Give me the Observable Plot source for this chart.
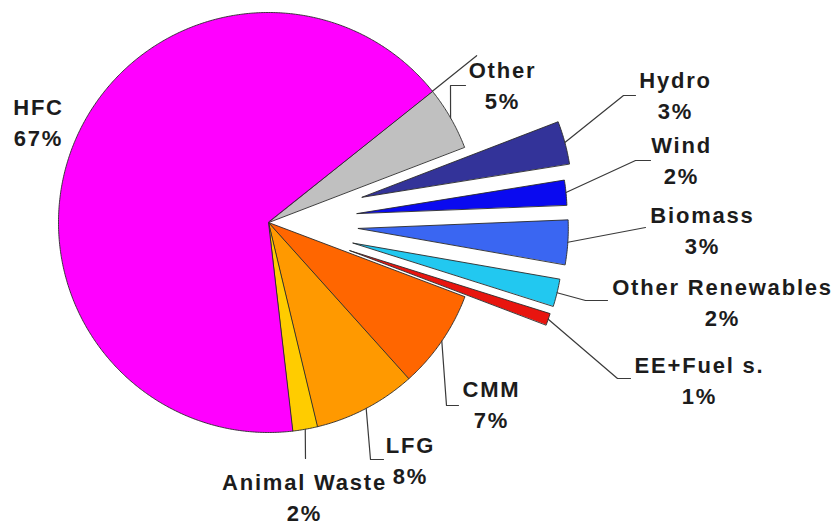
<!DOCTYPE html>
<html><head><meta charset="utf-8">
<script src="https://cdn.jsdelivr.net/npm/d3@7"></script>
<script src="https://cdn.jsdelivr.net/npm/@observablehq/plot@0.6"></script>
<style>
body{margin:0;background:#fff;}
.pie text{letter-spacing:1.8px;}
</style></head><body><div id="chart"></div>
<script>
// ---- data ----
const categories = ["Other","Hydro","Wind","Biomass","Other Renewables","EE+Fuel s.","CMM","LFG","Animal Waste","HFC"];
const shares = [4.9,3.3,1.9,3.4,2.1,0.9,7.6,7.9,1.9,66.1];
const percentLabels = ["5%","3%","2%","3%","2%","1%","7%","8%","2%","67%"];
const colors = ["#C0C0C0","#333399","#0A0AF0","#3A66F2","#22C8F0","#E8150F","#FF6600","#FF9900","#FFCC00","#FF00FF"];

// ---- layout ----
const W = 837, H = 525, cx = 268, cy = 222, R = 210, startDeg = 51.3;
const explode = {"Hydro":97, "Wind":89, "Biomass":90, "Other Renewables":87, "EE+Fuel s.":86};
const labelAt = {
  "Other":[502,108], "Hydro":[675,118], "Wind":[681,183], "Biomass":[702,253],
  "Other Renewables":[722,325], "EE+Fuel s.":[699,403], "CMM":[491,427],
  "LFG":[410,483], "Animal Waste":[304,520], "HFC":[38,145]
};
const leaderTo = {
  "Other":[[450,85],[465,85]], "Hydro":[[623,95],[635,95]], "Wind":[[635,160],[650,160]],
  "Biomass":[[645,227]], "Other Renewables":[[585,300],[607,300]],
  "EE+Fuel s.":[[617,378],[630,378]], "CMM":[[446,405],[458,405]],
  "LFG":[[370,459],[383,459]], "Animal Waste":[[305,458]]
};

const rows = categories.map((name, i) => ({name, value: shares[i], pct: percentLabels[i], color: colors[i]}));
const a0 = startDeg * Math.PI / 180;
const arcs = d3.pie().sort(null).value(d => d.value).startAngle(a0).endAngle(a0 + 2 * Math.PI)(rows);

const marks = [];
const geo = arcs.map(a => {
  const name = a.data.name;
  const mid = (a.startAngle + a.endAngle) / 2;
  const off = explode[name] || 0;
  const ox = cx + off * Math.sin(mid), oy = cy - off * Math.cos(mid);
  const pts = [{x: ox, y: oy}];
  const n = Math.max(4, Math.ceil((a.endAngle - a.startAngle) / 0.008));
  for (let k = 0; k <= n; k++) {
    const t = a.startAngle + (a.endAngle - a.startAngle) * k / n;
    pts.push({x: ox + R * Math.sin(t), y: oy - R * Math.cos(t)});
  }
  return {name, a, mid, ox, oy, pts};
});

for (const g of geo) {
  marks.push(Plot.line(g.pts, {x: "x", y: "y", fill: g.a.data.color, stroke: "#2a2a2a", strokeWidth: 0.9, curve: "linear-closed"}));
}

// leader lines
for (const g of geo) {
  const to = leaderTo[g.name];
  if (!to) continue;
  const start = {x: g.ox + R * Math.sin(g.mid), y: g.oy - R * Math.cos(g.mid)};
  const path = [start, ...to.map(([x, y]) => ({x, y}))];
  marks.push(Plot.line(path, {x: "x", y: "y", stroke: "#3a3a3a", strokeWidth: 1.2}));
}
// radial line continuing the HFC / Other boundary
{
  const g = geo[0];
  const t = g.a.startAngle;
  const seg = [{x: cx + R * Math.sin(t), y: cy - R * Math.cos(t)}, {x: cx + 1.27 * R * Math.sin(t), y: cy - 1.27 * R * Math.cos(t)}];
  marks.push(Plot.line(seg, {x: "x", y: "y", stroke: "#3a3a3a", strokeWidth: 1.2}));
}

const labels = rows.map(r => ({text: r.name + "\n" + r.pct, x: labelAt[r.name][0], y: labelAt[r.name][1]}));
marks.push(Plot.text(labels, {
  x: "x", y: "y", text: "text", textAnchor: "middle", lineAnchor: "bottom", lineHeight: 1.4,
  fontSize: 22, fontWeight: "bold", fontFamily: "'Liberation Sans', Arial, sans-serif", fill: "#1c1c1c"
}));

const chart = Plot.plot({
  width: W, height: H, margin: 0, className: "pie",
  x: {domain: [0, W], range: [0, W], axis: null},
  y: {domain: [0, H], range: [0, H], axis: null},
  style: {background: "#fff", overflow: "visible"},
  marks
});
document.getElementById("chart").appendChild(chart);
</script></body></html>
